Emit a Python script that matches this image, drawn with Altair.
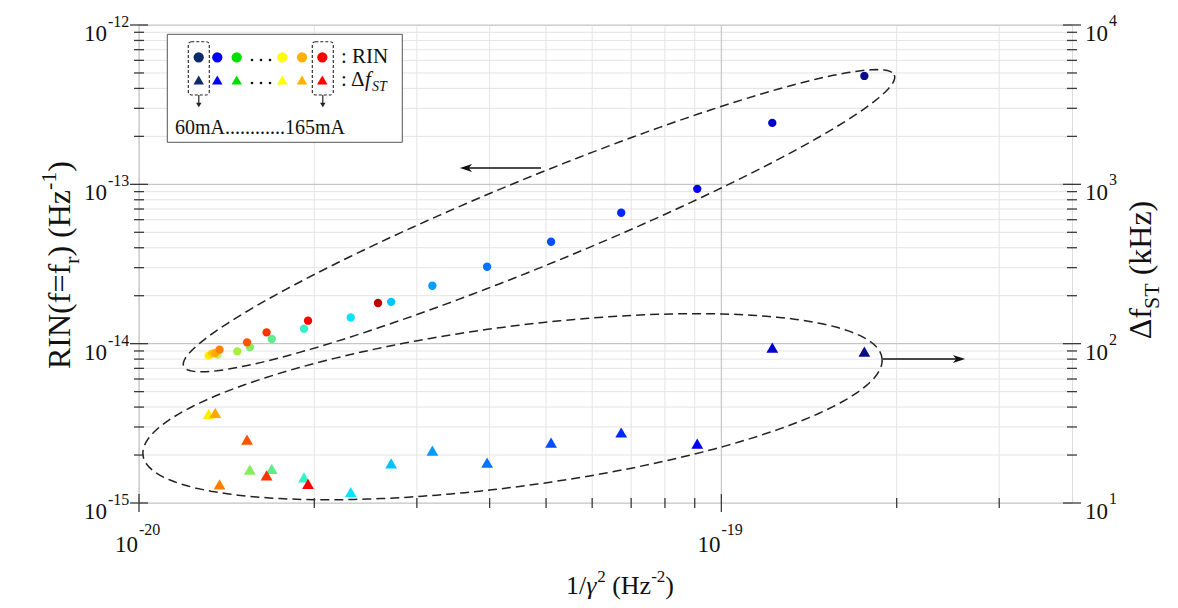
import math
import altair as alt
import pandas as pd

# ---------------- data ----------------
current = [60, 65, 70, 75, 80, 85, 90, 95, 100, 105, 110, 115, 120, 125, 130, 135, 140, 145, 150, 155, 160, 165]
inv_gamma2 = [1.760e-19, 1.223e-19, 9.09e-20, 6.73e-20, 5.10e-20, 3.96e-20, 3.19e-20, 2.71e-20,
              2.31e-20, 1.92e-20, 1.69e-20, 1.55e-20, 1.475e-20, 1.365e-20, 1.317e-20, 1.335e-20,
              1.352e-20, 1.375e-20, 1.533e-20, 1.656e-20, 1.951e-20, 2.573e-20]
rin = [4.79e-13, 2.43e-13, 9.37e-14, 6.63e-14, 4.36e-14, 3.04e-14, 2.31e-14, 1.83e-14,
       1.46e-14, 1.24e-14, 1.07e-14, 9.53e-15, 8.95e-15, 8.53e-15, 8.41e-15, 8.66e-15,
       8.74e-15, 9.17e-15, 1.019e-14, 1.177e-14, 1.394e-14, 1.80e-14]
delta_f_st = [89.1, 94.4, 23.6, 27.7, 23.9, 17.9, 21.3, 17.7, 11.7, 14.5, 16.4, 16.2,
              None, None, 36.2, None, 36.8, 13.1, 25.0, 14.9, 13.2, None]

x_major = [1e-20, 1e-19]
x_minor = [2e-20, 3e-20, 4e-20, 5e-20, 6e-20, 7e-20, 8e-20, 9e-20, 2e-19, 3e-19]
y_major = [1e-15, 1e-14, 1e-13, 1e-12]
y_minor = [k * 10.0 ** e for e in (-15, -14, -13) for k in range(2, 10)]
y_major_sup = ["-15", "-14", "-13", "-12"]
x_major_sup = ["-20", "-19"]
r_major = [1e1, 1e2, 1e3, 1e4]
r_major_sup = ["1", "2", "3", "4"]

palette = ["#0a0a8c", "#0000cd", "#0000ee", "#0028ff", "#0050ff", "#0074ff", "#009cff", "#00c4ff",
           "#08e4ff", "#38f0c8", "#5cee8c", "#86ec5c", "#aaee40", "#c4ee70", "#ffee00", "#ffcc00",
           "#ffaa00", "#ff7f00", "#ff5500", "#ff3300", "#ff0000", "#c00000"]
legend_colors = ["#0d2b6b", "#0000ff", "#00dd00", "#ffff00", "#ffb000", "#ff0000"]

# ---------------- layout ----------------
FONT = "Liberation Serif"
W, H = 933, 478
OX, OY = 139, 25           # page position of plot origin
DX = W / math.log10(40.0)  # px per decade (x)
DY = H / 3.0               # px per decade (y)
INK = "#3a3a3a"

xs = alt.Scale(type="log", domain=[1e-20, 4e-19], nice=False)
ysl = alt.Scale(type="log", domain=[1e-15, 1e-12], nice=False)
ysr = alt.Scale(type="log", domain=[1e1, 1e4], nice=False)

pts = pd.DataFrame({"x": inv_gamma2, "rin": rin, "df": delta_f_st, "current": current})
tri = pts.dropna(subset=["df"])
one = pd.DataFrame({"k": [0]})
col = alt.Color("current:O", scale=alt.Scale(domain=current, range=palette), legend=None)

axis_plain = dict(labels=False, ticks=False, grid=False, title=None,
                  domainColor=INK, domainWidth=1.6)


def vals(v, extra=None):
    d = {"v": v}
    if extra is not None:
        d["s"] = extra
    return pd.DataFrame(d)


# grid
grid = [
    alt.Chart(vals(y_minor)).mark_rule(color="#e4e4e4", strokeWidth=1).encode(
        y=alt.Y("v:Q", scale=ysl, axis=None)),
    alt.Chart(vals(x_minor)).mark_rule(color="#e4e4e4", strokeWidth=1).encode(
        x=alt.X("v:Q", scale=xs, axis=None)),
    alt.Chart(vals(y_major)).mark_rule(color="#c6c6c6", strokeWidth=1.2).encode(
        y=alt.Y("v:Q", scale=ysl, axis=None)),
    alt.Chart(vals(x_major)).mark_rule(color="#c6c6c6", strokeWidth=1.2).encode(
        x=alt.X("v:Q", scale=xs, axis=None)),
]


# dashed ellipses (annotation), defined in pixel geometry then mapped to data space
def ellipse(cx, cy, a, b, deg, n=160):
    th = math.radians(deg)
    rows = []
    for i in range(n + 1):
        t = 2 * math.pi * i / n
        px = cx + a * math.cos(t) * math.cos(th) - b * math.sin(t) * math.sin(th)
        py = cy + a * math.cos(t) * math.sin(th) + b * math.sin(t) * math.cos(th)
        rows.append({"i": i,
                     "ex": 10 ** (-20 + (px - OX) / DX),
                     "ey": 10 ** (-12 - (py - OY) / DY)})
    return pd.DataFrame(rows)


ell = []
for e in (ellipse(539, 220.7, 384, 44, -22.27), ellipse(512.5, 406.7, 372.7, 80, -7.5)):
    ell.append(alt.Chart(e).mark_line(color="#222", strokeWidth=1.5, strokeDash=[9, 5]).encode(
        x=alt.X("ex:Q", scale=xs, axis=None),
        y=alt.Y("ey:Q", scale=ysl, axis=None),
        order=alt.Order("i:Q")))

circles = alt.Chart(pts).mark_point(shape="circle", filled=True, size=70, opacity=1).encode(
    x=alt.X("x:Q", scale=xs, axis=alt.Axis(**axis_plain)),
    y=alt.Y("rin:Q", scale=ysl, axis=alt.Axis(orient="left", **axis_plain)),
    color=col)

triangles = alt.Chart(tri).mark_point(shape="triangle-up", filled=True, size=140, opacity=1).encode(
    x=alt.X("x:Q", scale=xs, axis=None),
    y=alt.Y("df:Q", scale=ysr, axis=alt.Axis(orient="right", **axis_plain)),
    color=col)


# crossing ticks
def yticks(v, L, at):
    return alt.Chart(vals(v)).mark_rule(color=INK, strokeWidth=1.3).encode(
        y=alt.Y("v:Q", scale=ysl, axis=None), x=alt.value(at - L), x2=alt.value(at + L))


def xticks(v, L):
    return alt.Chart(vals(v)).mark_rule(color=INK, strokeWidth=1.3).encode(
        x=alt.X("v:Q", scale=xs, axis=None), y=alt.value(H - L), y2=alt.value(H + L))


ticks = [yticks(y_major, 9, 0), yticks(y_minor, 5, 0), yticks(y_major, 9, W), yticks(y_minor, 5, W),
         xticks(x_major, 9), xticks(x_minor, 5)]

# tick labels (10 with superscript exponent)
lab = dict(font=FONT, color="#111")
labels_left = [
    alt.Chart(vals(y_major, y_major_sup)).mark_text(text="10", fontSize=23, align="right", baseline="middle", dy=9, **lab).encode(
        y=alt.Y("v:Q", scale=ysl, axis=None), x=alt.value(-32)),
    alt.Chart(vals(y_major, y_major_sup)).mark_text(fontSize=16, align="left", baseline="middle", dy=-3, **lab).encode(
        y=alt.Y("v:Q", scale=ysl, axis=None), x=alt.value(-31), text="s:N"),
]
labels_bottom = [
    alt.Chart(vals(x_major, x_major_sup)).mark_text(text="10", fontSize=23, align="right", baseline="middle", dx=-1, **lab).encode(
        x=alt.X("v:Q", scale=xs, axis=None), y=alt.value(H + 42)),
    alt.Chart(vals(x_major, x_major_sup)).mark_text(fontSize=16, align="left", baseline="middle", dx=0, **lab).encode(
        x=alt.X("v:Q", scale=xs, axis=None), y=alt.value(H + 27), text="s:N"),
]
labels_right = [
    alt.Chart(vals(r_major, r_major_sup)).mark_text(text="10", fontSize=23, align="left", baseline="middle", dy=9, **lab).encode(
        y=alt.Y("v:Q", scale=ysr, axis=None), x=alt.value(W + 13)),
    alt.Chart(vals(r_major, r_major_sup)).mark_text(fontSize=16, align="left", baseline="middle", dy=-4, **lab).encode(
        y=alt.Y("v:Q", scale=ysr, axis=None), x=alt.value(W + 37), text="s:N"),
]

# ---------------- rich text helper ----------------
EM = {'0': .5, '1': .5, '2': .5, '3': .5, '4': .5, '5': .5, '6': .5, '7': .5, '8': .5, '9': .5,
      '/': .278, ' ': .25, '(': .333, ')': .333, 'H': .722, 'z': .444, '-': .333, 'R': .667,
      'I': .333, 'N': .722, 'f': .333, '=': .564, 'r': .333, 'k': .5, 'S': .556, 'T': .611,
      'Δ': .612, 'γ': .42, ':': .278, 'm': .778, 'A': .722, '.': .25}


def tw(s, size):
    return sum(EM.get(c, .5) for c in s) * size


def rich(pieces, x, y, angle=0, anchor="middle"):
    total = sum(tw(t, s) for t, s, sh, it in pieces)
    off = -total / 2 if anchor == "middle" else 0
    out = []
    for t, s, sh, it in pieces:
        lead = len(t) - len(t.lstrip(" "))
        off += lead * EM[" "] * s
        t = t.strip(" ")
        if angle == 0:
            px, py = x + off, y - sh
        else:
            px, py = x - sh, y - off
        out.append(alt.Chart(one).mark_text(
            text=t, fontSize=s, font=FONT, fontStyle="italic" if it else "normal",
            align="left", baseline="alphabetic", angle=angle, color="#111").encode(
            x=alt.value(px - OX), y=alt.value(py - OY)))
        off += tw(t, s)
    return out


titles = (
    rich([("1/", 26, 0, False), ("γ", 26, 0, True), ("2", 17, 12, False), (" (Hz", 26, 0, False),
          ("-2", 17, 12, False), (")", 26, 0, False)], 620, 594)
    + rich([("RIN(f=f", 32, 0, False), ("r", 22, -9, False), (") (Hz", 32, 0, False),
            ("-1", 22, 14, False), (")", 32, 0, False)], 70, 265, angle=270)
    + rich([("Δf", 32, 0, False), ("ST", 22, -8, False), (" (kHz)", 32, 0, False)], 1151, 270, angle=270)
)


def P(x, y):
    return dict(x=alt.value(x - OX), y=alt.value(y - OY))


# ---------------- legend box (annotation) ----------------
legend = [alt.Chart(one).mark_rect(fill="white", stroke="#555", strokeWidth=1).encode(
    x=alt.value(167.3 - OX), x2=alt.value(402.3 - OX), y=alt.value(34.3 - OY), y2=alt.value(142.3 - OY))]
for lx, c in zip([198.7, 217.3, 236.7, 282.3, 302, 322.3], legend_colors):
    legend.append(alt.Chart(one).mark_point(shape="circle", filled=True, size=105, color=c, opacity=1).encode(**P(lx, 57.3)))
    legend.append(alt.Chart(one).mark_point(shape="triangle-up", filled=True, size=110, color=c, opacity=1).encode(**P(lx, 80)))
for bx in (198.8, 322.8):
    legend.append(alt.Chart(one).mark_rect(fill=None, stroke="#222", strokeWidth=1.1, strokeDash=[3, 2], cornerRadius=3).encode(
        x=alt.value(bx - 10.5 - OX), x2=alt.value(bx + 10.5 - OX), y=alt.value(41.7 - OY), y2=alt.value(95 - OY)))
    legend.append(alt.Chart(one).mark_rule(color="#222", strokeWidth=1.2).encode(
        x=alt.value(bx - OX), y=alt.value(95 - OY), y2=alt.value(103 - OY)))
    legend.append(alt.Chart(one).mark_point(shape="triangle-down", filled=True, size=30, color="#222", opacity=1).encode(**P(bx, 105)))
# ellipsis dots between the legend symbols
for ly in (60, 83):
    for dx_ in (252, 261, 270):
        legend.append(alt.Chart(one).mark_point(shape="circle", filled=True, size=7, color="#111", opacity=1).encode(**P(dx_, ly)))
legend += rich([(": RIN", 21, 0, False)], 341, 63, anchor="left")
legend += rich([(": Δ", 21, 0, False), ("f", 21, 0, True), ("ST", 14, -5, True)], 341, 86, anchor="left")
legend.append(alt.Chart(one).mark_text(text="60mA" + "." * 12 + "165mA", fontSize=20, font=FONT, align="left",
                                       baseline="alphabetic", color="#111").encode(**P(175, 134)))

# ---------------- arrows (annotation) ----------------
arrows = [
    alt.Chart(one).mark_rule(color="#111", strokeWidth=1.6).encode(
        x=alt.value(464 - OX), x2=alt.value(541 - OX), y=alt.value(168 - OY)),
    alt.Chart(one).mark_point(shape="M-1,0 L1,-0.65 L0.45,0 L1,0.65 Z", filled=True, size=150, color="#111", opacity=1).encode(
        **P(466, 168)),
    alt.Chart(one).mark_rule(color="#111", strokeWidth=1.6).encode(
        x=alt.value(883 - OX), x2=alt.value(960 - OX), y=alt.value(359 - OY)),
    alt.Chart(one).mark_point(shape="M1,0 L-1,-0.65 L-0.45,0 L-1,0.65 Z", filled=True, size=150, color="#111", opacity=1).encode(
        **P(959, 359)),
]

left_group = alt.layer(*grid, *ell, circles, *ticks, *labels_left, *labels_bottom)
right_group = alt.layer(triangles, *labels_right)

chart = alt.layer(left_group, right_group, *legend, *arrows, *titles).resolve_scale(
    y="independent"
).properties(
    width=W, height=H,
    autosize=alt.AutoSizeParams(type="none"),
    padding={"left": OX - 8, "top": OY - 8, "right": 97, "bottom": 97},
).configure_view(strokeWidth=0).configure(background="white")

chart.save("out.html", embed_options={"renderer": "svg", "actions": False})
